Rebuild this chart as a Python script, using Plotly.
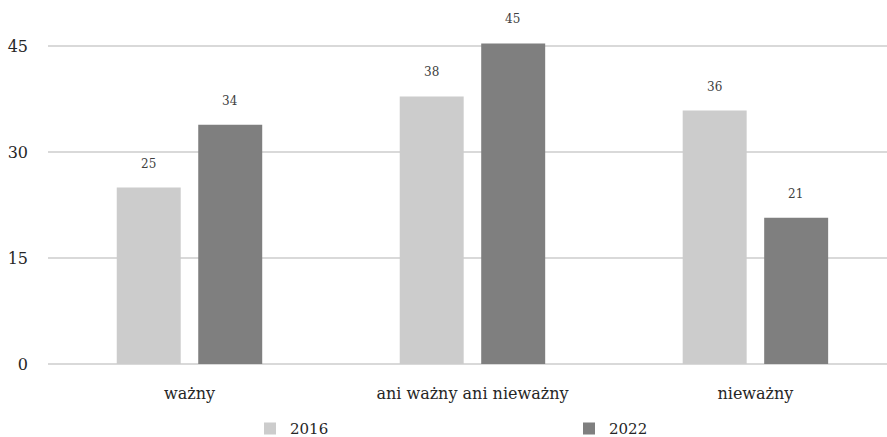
import plotly.graph_objects as go

categories = ["ważny", "ani ważny ani nieważny", "nieważny"]
series_names = ["2016", "2022"]
values_2016 = [25.0, 37.9, 35.9]
values_2022 = [33.9, 45.4, 20.7]
y_ticks = [0, 15, 30, 45]

colors = ["#cccccc", "#7f7f7f"]
serif = "DejaVu Serif"
text_color = "#262626"

fig = go.Figure()
legend_ids = ["legend", "legend2"]
for name, vals, col, lg in zip(series_names, [values_2016, values_2022], colors, legend_ids):
    fig.add_trace(go.Bar(
        x=categories, y=vals, name=name, legend=lg,
        marker=dict(color=col, line=dict(width=0)),
    ))

# value labels floating above each bar
shift = 40.5
for i, vals in enumerate([values_2016, values_2022]):
    xs = -shift if i == 0 else shift
    for c, v in zip(categories, vals):
        fig.add_annotation(
            x=c, y=v, text=f"{v:.0f}", showarrow=False,
            xshift=xs, yshift=24, yanchor="middle",
            font=dict(family=serif, size=12, color="#404040"),
        )

legend_style = dict(
    orientation="h", xref="container", yref="container",
    xanchor="left", y=0.0565, yanchor="top",
    font=dict(family=serif, size=15, color=text_color),
    bgcolor="rgba(0,0,0,0)", itemwidth=30,
)

fig.update_layout(
    width=887, height=437,
    margin=dict(l=48, r=0, t=11, b=73, autoexpand=False),
    paper_bgcolor="white", plot_bgcolor="white",
    barmode="group", bargap=0.424, bargroupgap=0.215,
    font=dict(family=serif, size=15, color=text_color),
    showlegend=True,
    legend=dict(x=250 / 887, **legend_style),
    legend2=dict(x=569 / 887, **legend_style),
    xaxis=dict(
        range=[-0.5, 2.465], showgrid=False, showline=False, ticks="",
        ticklabelstandoff=18, automargin=False,
        tickfont=dict(family=serif, size=16, color=text_color),
    ),
    yaxis=dict(
        range=[0, 50], tickvals=y_ticks, ticktext=[str(t) for t in y_ticks],
        showgrid=True, gridcolor="#d9d9d9", gridwidth=2,
        zeroline=True, zerolinecolor="#d9d9d9", zerolinewidth=2,
        showline=False, ticks="", ticklabelstandoff=19, automargin=False,
        tickfont=dict(family=serif, size=16, color=text_color),
    ),
)

fig.write_html("out.html")
